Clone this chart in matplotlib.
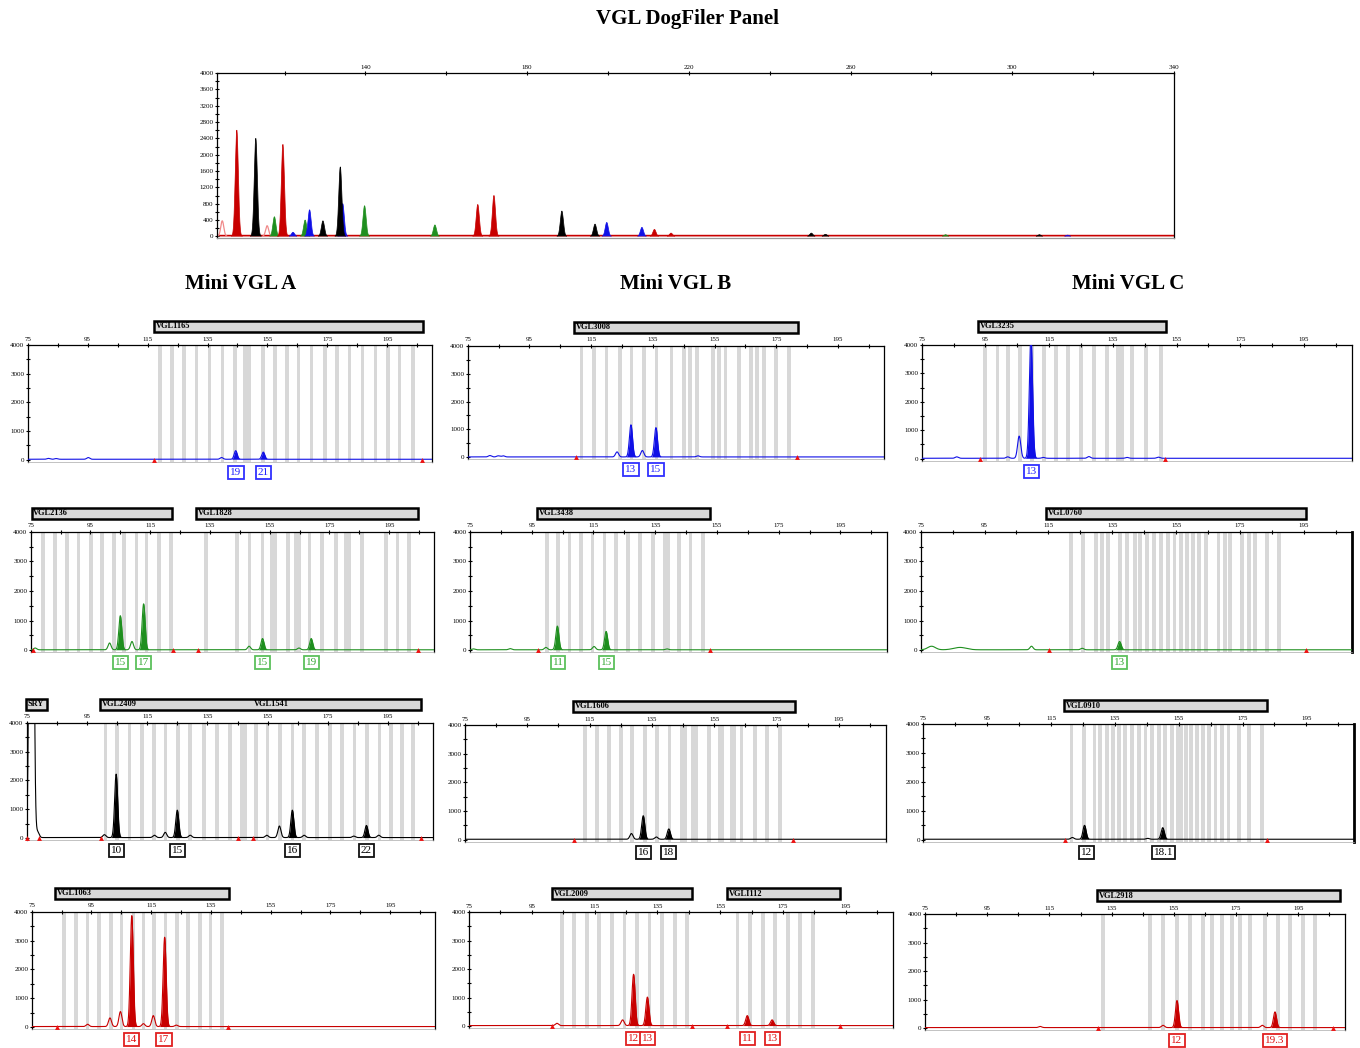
import numpy as np
import matplotlib
matplotlib.use("Agg")
import matplotlib.pyplot as plt
from matplotlib import transforms
from matplotlib.patches import Rectangle
from matplotlib.ticker import MultipleLocator, FixedLocator

plt.rcParams['font.family'] = ['Liberation Serif', 'DejaVu Serif']

W, H = 1360, 1048

# ---------------- overview electropherogram ----------------
TOP_TITLE = "VGL DogFiler Panel"
TOP_X = [104.6, 108.2, 112.9, 115.7, 117.5, 119.6, 122.1, 125.1, 126.2, 129.5,
         133.8, 134.4, 139.8, 157.2, 167.8, 171.8, 188.6, 196.8, 199.7, 208.4,
         211.5, 215.6, 250.3, 253.8, 283.5, 306.7, 313.7]
TOP_H = [380, 2600, 2400, 260, 480, 2250, 100, 400, 650, 380,
         1700, 800, 750, 280, 780, 1000, 620, 300, 340, 220,
         170, 80, 80, 50, 40, 40, 30]
TOP_DYE = ['pink', 'red', 'black', 'pink', 'green', 'red', 'blue', 'green', 'blue', 'black',
           'black', 'blue', 'green', 'green', 'red', 'red', 'black', 'black', 'blue', 'blue',
           'red', 'red', 'black', 'black', 'green', 'black', 'blue']
TOP_XLABELS = [140, 180, 220, 260, 300, 340]
TOP_XMINOR = [120, 160, 200, 240, 280, 320]
TOP_YTICKS = [0, 400, 800, 1200, 1600, 2000, 2400, 2800, 3200, 3600, 4000]

SECTION_TITLES = ["Mini VGL A", "Mini VGL B", "Mini VGL C"]

# ---------------- Mini VGL A ----------------
A1_BINS = [119.1, 123.2, 127.2, 131.3, 135.6, 140.0, 144.2, 147.6, 148.8, 153.6, 157.6, 161.6,
           165.3, 169.7, 174.1, 178.2, 182.4, 186.7, 191.1, 195.2, 199.1, 203.6]
A1_PEAK_X = [81.9, 84.5, 95.2, 139.7, 144.4, 153.6]
A1_PEAK_H = [30, 25, 60, 60, 300, 250]
A1_CALLED = [0, 0, 0, 0, 1, 1]
A1_MARKS = [117.2, 206.7]
A1_LOCI = [("VGL1165", 117.1, 206.8)]
A1_ALLELES = [("19", 144.5), ("21", 153.6)]

A2_BINS = [79.1, 83.2, 87.2, 91.0, 95.2, 98.9, 102.8, 106.3, 110.4, 113.8, 118.0, 121.9,
           133.7, 144.0, 148.3, 152.6, 155.6, 156.8, 161.2, 163.9, 165.0, 168.3, 172.6,
           177.2, 180.4, 181.5, 185.9, 193.9, 197.8, 201.7]
A2_PEAK_X = [76.5, 101.4, 105.0, 108.9, 112.8, 148.1, 152.6, 164.8, 168.9]
A2_PEAK_H = [60, 230, 1150, 280, 1550, 120, 380, 60, 380]
A2_CALLED = [0, 0, 1, 0, 1, 0, 1, 0, 1]
A2_MARKS = [75.9, 122.6, 130.9, 204.6]
A2_LOCI = [("VGL2136", 75.3, 122.3), ("VGL1828", 130.3, 204.5)]
A2_ALLELES = [("15", 105.0), ("17", 112.8), ("15", 152.6), ("19", 168.9)]

A3_BINS = [101.1, 104.9, 109.1, 113.3, 117.2, 121.1, 125.2, 129.3, 133.8, 138.2, 142.4,
           146.4, 147.4, 151.1, 154.9, 159.1, 163.2, 167.1, 171.3, 175.8, 179.7, 183.9,
           188.0, 192.2, 196.0, 199.7, 203.3]
A3_PEAK_X = [76.6, 78.6, 100.8, 104.7, 117.4, 121.0, 125.0, 129.3, 154.7, 158.9, 163.2,
             167.1, 183.6, 187.8, 191.9]
A3_PEAK_H = [30000, 200, 100, 2200, 80, 180, 950, 80, 80, 400, 950, 80, 50, 420, 80]
A3_CALLED = [0, 0, 0, 1, 0, 0, 1, 0, 0, 0, 1, 0, 0, 1, 0]
A3_MARKS = [75.2, 79.1, 99.8, 145.0, 150.1, 205.9]
A3_LOCI = [("SRY", 74.8, 81.7), ("VGL2409", 99.4, 205.9)]
A3_EXTRA = [("VGL1541", 150.5)]
A3_ALLELES = [("10", 104.7), ("15", 125.0), ("16", 163.2), ("22", 187.8)]

A4_BINS = [85.8, 89.8, 93.7, 97.5, 101.6, 105.0, 109.1, 112.4, 116.0, 119.8, 123.6, 127.4,
           131.3, 134.9, 138.7]
A4_PEAK_X = [93.7, 101.2, 104.7, 108.5, 112.4, 115.7, 119.5, 123.4]
A4_PEAK_H = [80, 300, 520, 3850, 100, 380, 3100, 50]
A4_CALLED = [0, 0, 0, 1, 0, 0, 1, 0]
A4_MARKS = [83.5, 140.7]
A4_LOCI = [("VGL1063", 82.7, 141.0)]
A4_ALLELES = [("14", 108.5), ("17", 119.3)]

# ---------------- Mini VGL B ----------------
B1_BINS = [111.9, 116.0, 120.0, 124.3, 128.1, 132.1, 136.2, 141.0, 145.1, 147.1, 149.4,
           154.5, 156.4, 158.5, 162.9, 166.9, 168.8, 171.0, 175.0, 179.1]
B1_PEAK_X = [82.2, 84.9, 86.5, 123.4, 127.9, 131.6, 136.0, 149.6]
B1_PEAK_H = [50, 40, 40, 180, 1150, 230, 1050, 40]
B1_CALLED = [0, 0, 0, 0, 1, 0, 1, 0]
B1_MARKS = [110.0, 181.7]
B1_LOCI = [("VGL3008", 109.4, 182.0)]
B1_ALLELES = [("13", 127.9), ("15", 136.0)]

B2_BINS = [99.9, 103.4, 107.2, 110.9, 114.7, 118.6, 122.4, 126.2, 130.1, 134.2, 138.0,
           139.2, 142.6, 146.4, 150.4]
B2_PEAK_X = [76.1, 88.0, 99.6, 103.3, 115.2, 119.1, 138.8]
B2_PEAK_H = [30, 40, 80, 800, 110, 620, 30]
B2_CALLED = [0, 0, 0, 1, 0, 1, 0]
B2_MARKS = [96.9, 152.6]
B2_LOCI = [("VGL3438", 96.6, 152.6)]
B2_ALLELES = [("11", 103.5), ("15", 119.1)]

B3_BINS = [113.6, 117.3, 121.3, 125.0, 128.7, 132.7, 136.7, 140.6, 144.7, 145.7, 148.2,
           149.2, 153.3, 156.8, 157.6, 160.6, 161.4, 163.7, 168.0, 171.9, 176.0]
B3_PEAK_X = [128.4, 132.2, 136.4, 140.4]
B3_PEAK_H = [200, 820, 80, 360]
B3_CALLED = [0, 1, 0, 1]
B3_MARKS = [109.9, 180.1]
B3_LOCI = [("VGL1606", 109.8, 180.9)]
B3_ALLELES = [("16", 132.3), ("18", 140.4)]

B4_BINS = [104.5, 108.5, 112.5, 116.5, 120.5, 124.5, 128.5, 132.5, 136.5, 140.5, 144.5,
           160.5, 164.5, 168.5, 172.5, 176.5, 180.5, 184.5]
B4_PEAK_X = [103.0, 123.9, 127.4, 131.8, 163.6, 171.5]
B4_PEAK_H = [80, 200, 1800, 1000, 350, 200]
B4_CALLED = [0, 0, 1, 1, 1, 1]
B4_MARKS = [101.5, 146.0, 157.0, 193.0]
B4_LOCI = [("VGL2009", 101.3, 146.1), ("VGLI112", 157.2, 193.1)]
B4_ALLELES = [("12", 127.4), ("13", 131.8), ("11", 163.6), ("13", 171.5)]

# ---------------- Mini VGL C ----------------
C1_BINS = [94.9, 98.8, 102.2, 105.9, 109.5, 113.4, 117.1, 121.0, 125.0, 129.1, 133.1, 136.6,
           137.8, 140.9, 145.3, 150.0]
C1_PEAK_X = [86.0, 102.0, 105.6, 109.3, 113.2, 127.5, 139.5, 149.3]
C1_PEAK_H = [50, 50, 780, 4300, 30, 60, 30, 40]
C1_CALLED = [0, 0, 0, 1, 0, 0, 0, 0]
C1_MARKS = [93.3, 151.4]
C1_LOCI = [("VGL3235", 92.8, 151.7)]
C1_ALLELES = [("13", 109.4)]

C2_BINS = [122.2, 125.8, 130.0, 131.8, 133.6, 137.3, 139.6, 142.0, 143.8, 146.0, 148.0,
           150.3, 152.4, 154.5, 156.6, 158.4, 160.4, 162.3, 164.4, 168.3, 170.2, 171.9,
           175.7, 177.8, 179.8, 183.5, 187.1]
C2_PEAK_X = [78.4, 87.3, 109.7, 125.6, 137.3]
C2_PEAK_H = [120, 80, 120, 50, 280]
C2_PEAK_W = [1.2, 2.0, 0.5, 0.5, 0.5]
C2_CALLED = [0, 0, 0, 0, 1]
C2_MARKS = [115.2, 195.6]
C2_LOCI = [("VGL0760", 114.4, 195.6)]
C2_ALLELES = [("13", 137.3)]

C3_BINS = [121.4, 125.3, 128.6, 130.4, 132.5, 134.4, 136.3, 138.3, 140.3, 142.5, 144.6,
           146.7, 148.8, 150.6, 152.9, 154.8, 155.8, 157.4, 158.9, 160.6, 162.7, 164.6,
           166.5, 168.5, 170.6, 173.8, 177.1, 181.0]
C3_PEAK_X = [121.7, 125.5, 145.3, 150.0]
C3_PEAK_H = [60, 480, 30, 400]
C3_CALLED = [0, 1, 0, 1]
C3_MARKS = [119.5, 182.8]
C3_LOCI = [("VGL0910", 119.0, 182.8)]
C3_ALLELES = [("12", 126.0), ("18.1", 150.2)]

C4_BINS = [132.2, 147.3, 151.5, 156.0, 160.2, 164.4, 167.3, 170.5, 173.7, 176.3, 179.5,
           184.3, 188.5, 192.4, 196.5, 200.4]
C4_PEAK_X = [112.0, 151.5, 156.0, 183.4, 187.5]
C4_PEAK_H = [40, 80, 950, 80, 550]
C4_CALLED = [0, 0, 1, 0, 1]
C4_MARKS = [130.5, 206.0]
C4_LOCI = [("VGL2918", 130.3, 208.4)]
C4_ALLELES = [("12", 156.0), ("19.3", 187.5)]

SUB_XLABELS = [75, 95, 115, 135, 155, 175, 195]
SUB_XMINOR = [85, 105, 125, 145, 165, 185, 205]
SUB_YTICKS = [0, 1000, 2000, 3000, 4000]

# ---------------- styling ----------------
DYE = {'blue': '#1010e6', 'green': '#1f8f1f', 'black': '#000000',
       'red': '#c80000', 'pink': '#f08a8a'}
LABEL_EDGE = {'blue': '#3030ff', 'green': '#5cc05c', 'black': '#111111', 'red': '#e02020'}
LABEL_TEXT = {'blue': '#2020ff', 'green': '#34a834', 'black': '#000000', 'red': '#e01010'}

fig = plt.figure(figsize=(W / 100, H / 100), dpi=100)
fig.patch.set_facecolor('white')


def rect(l, t, r, b):
    return [l / W, 1 - b / H, (r - l) / W, (b - t) / H]


def gauss_sum(xs, px, ph, pw):
    y = np.zeros_like(xs)
    for c, h, w in zip(px, ph, pw):
        y += h * np.exp(-0.5 * ((xs - c) / w) ** 2)
    return y


# title and section headers
fig.text(688 / W, 1 - 19 / H, TOP_TITLE, ha='center', va='center',
         fontsize=15, fontweight='bold')
for txt, xc in zip(SECTION_TITLES, [241, 676, 1128]):
    fig.text(xc / W, 1 - 284 / H, txt, ha='center', va='center',
             fontsize=15, fontweight='bold')

# ---------------- overview panel ----------------
ax0 = fig.add_axes(rect(217, 73, 1174, 238))
xs0 = np.linspace(103.3, 340, 8000)
ax0.plot(xs0, np.full_like(xs0, 18), color=DYE['red'], lw=1.2, zorder=1)
for dye in ['pink', 'green', 'blue', 'red', 'black']:
    idx = [i for i, d in enumerate(TOP_DYE) if d == dye]
    if not idx:
        continue
    px = [TOP_X[i] for i in idx]
    ph = [TOP_H[i] for i in idx]
    y = gauss_sum(xs0, px, ph, [0.38] * len(px))
    ym = np.where(y > 5, y, np.nan)
    if dye == 'pink':
        ax0.plot(xs0, ym, color=DYE['pink'], lw=0.9, zorder=2)
    else:
        ax0.fill_between(xs0, 0, y, where=y > 5, color=DYE[dye], lw=0, zorder=3)
        ax0.plot(xs0, ym, color=DYE[dye], lw=0.5, zorder=3)
ax0.set_xlim(103.3, 340)
ax0.set_ylim(-40, 4000)
ax0.xaxis.tick_top()
ax0.xaxis.set_major_locator(FixedLocator(TOP_XLABELS))
ax0.xaxis.set_minor_locator(FixedLocator(TOP_XMINOR))
ax0.set_yticks(TOP_YTICKS)
ax0.yaxis.set_minor_locator(MultipleLocator(200))
ax0.tick_params(axis='both', which='both', direction='inout', labelsize=5,
                length=3, width=0.8, pad=1)
for s in ax0.spines.values():
    s.set_linewidth(0.9)
ax0.spines['bottom'].set_color('#999999')


# ---------------- sub panels ----------------
def draw_panel(box, dye, bins, px, ph, called, marks, loci, alleles,
               widths=None, extra=(), thick_right=False):
    l, t, r, b = box
    ax = fig.add_axes(rect(l, t, r, b))
    ax.set_xlim(75, 210)
    ax.set_ylim(-70, 4000)
    for c in bins:
        ax.axvspan(c - 0.6, c + 0.6, color='#d8d8d8', lw=0, zorder=0)
    xs = np.linspace(75, 210, 4000)
    if widths is None:
        widths = [0.5] * len(px)
    base = 15
    total = gauss_sum(xs, px, ph, widths) + base
    for c, h, w, k in zip(px, ph, widths, called):
        if k:
            yk = gauss_sum(xs, [c], [h], [w]) + base
            m = yk > base + 5
            ax.fill_between(xs, base, yk, where=m, color=DYE[dye], lw=0, zorder=3)
    ax.plot(xs, total, color=DYE[dye], lw=0.8, zorder=4)
    ax.plot(marks, [0] * len(marks), '^', color='#ee1111', ms=3.5, mew=0,
            clip_on=False, zorder=5)
    # axes styling
    ax.xaxis.tick_top()
    ax.xaxis.set_major_locator(FixedLocator(SUB_XLABELS))
    ax.xaxis.set_minor_locator(FixedLocator(SUB_XMINOR))
    ax.set_yticks(SUB_YTICKS)
    ax.yaxis.set_minor_locator(MultipleLocator(500))
    ax.tick_params(axis='both', which='both', direction='inout', labelsize=5,
                   length=3, width=0.8, pad=1)
    for s in ax.spines.values():
        s.set_linewidth(0.9)
    ax.spines['bottom'].set_color('#aaaaaa')
    ax.spines['bottom'].set_linewidth(0.5)
    if thick_right:
        ax.spines['right'].set_linewidth(2.0)
    # locus bars
    trans = transforms.blended_transform_factory(ax.transData, fig.transFigure)
    y0 = 1 - (t - 13) / H
    y1 = 1 - (t - 24) / H
    for name, s0, s1 in loci:
        ax.add_patch(Rectangle((s0, y0), s1 - s0, y1 - y0, transform=trans,
                               facecolor='#d8d8d8', edgecolor='black', lw=1.8,
                               clip_on=False, zorder=6))
        ax.text(s0 + 0.6, (y0 + y1) / 2, name, transform=trans, ha='left',
                va='center', fontsize=6, fontweight='bold', clip_on=False, zorder=7)
    for name, xpos in extra:
        ax.text(xpos, (y0 + y1) / 2, name, transform=trans, ha='left',
                va='center', fontsize=6, fontweight='bold', clip_on=False, zorder=7)
    # allele call labels
    for lab, xpos in alleles:
        ax.annotate(lab, xy=(xpos, 0), xycoords=('data', 'axes fraction'),
                    xytext=(0, -7.5), textcoords='offset points', ha='center',
                    va='center', fontsize=8, color=LABEL_TEXT[dye],
                    bbox=dict(boxstyle='square,pad=0.18', fc='white',
                              ec=LABEL_EDGE[dye], lw=1.3),
                    annotation_clip=False)
    return ax


draw_panel((27.7, 345, 432.3, 461.7), 'blue', A1_BINS, A1_PEAK_X, A1_PEAK_H, A1_CALLED,
           A1_MARKS, A1_LOCI, A1_ALLELES)
draw_panel((30.7, 531.7, 434, 652.3), 'green', A2_BINS, A2_PEAK_X, A2_PEAK_H, A2_CALLED,
           A2_MARKS, A2_LOCI, A2_ALLELES)
a3w = [0.55] + [0.5] * (len(A3_PEAK_X) - 1)
draw_panel((26.7, 722.7, 433.3, 840), 'black', A3_BINS, A3_PEAK_X, A3_PEAK_H, A3_CALLED,
           A3_MARKS, A3_LOCI, A3_ALLELES, widths=a3w, extra=A3_EXTRA)
draw_panel((31.7, 911.7, 435, 1029), 'red', A4_BINS, A4_PEAK_X, A4_PEAK_H, A4_CALLED,
           A4_MARKS, A4_LOCI, A4_ALLELES)

draw_panel((467.7, 345.7, 884.3, 459.3), 'blue', B1_BINS, B1_PEAK_X, B1_PEAK_H, B1_CALLED,
           B1_MARKS, B1_LOCI, B1_ALLELES)
draw_panel((470, 531.7, 886.7, 652.3), 'green', B2_BINS, B2_PEAK_X, B2_PEAK_H, B2_CALLED,
           B2_MARKS, B2_LOCI, B2_ALLELES)
draw_panel((465, 725, 885.7, 841.7), 'black', B3_BINS, B3_PEAK_X, B3_PEAK_H, B3_CALLED,
           B3_MARKS, B3_LOCI, B3_ALLELES)
draw_panel((469, 912, 893, 1028), 'red', B4_BINS, B4_PEAK_X, B4_PEAK_H, B4_CALLED,
           B4_MARKS, B4_LOCI, B4_ALLELES)

draw_panel((921.7, 345, 1351.7, 460.7), 'blue', C1_BINS, C1_PEAK_X, C1_PEAK_H, C1_CALLED,
           C1_MARKS, C1_LOCI, C1_ALLELES)
draw_panel((920.7, 531.7, 1351.7, 652.3), 'green', C2_BINS, C2_PEAK_X, C2_PEAK_H, C2_CALLED,
           C2_MARKS, C2_LOCI, C2_ALLELES, widths=C2_PEAK_W, thick_right=True)
draw_panel((923.3, 724, 1354.3, 841.7), 'black', C3_BINS, C3_PEAK_X, C3_PEAK_H, C3_CALLED,
           C3_MARKS, C3_LOCI, C3_ALLELES, thick_right=True)
draw_panel((925, 914, 1345, 1030), 'red', C4_BINS, C4_PEAK_X, C4_PEAK_H, C4_CALLED,
           C4_MARKS, C4_LOCI, C4_ALLELES)

fig.savefig("out.png", dpi=100, facecolor='white')
